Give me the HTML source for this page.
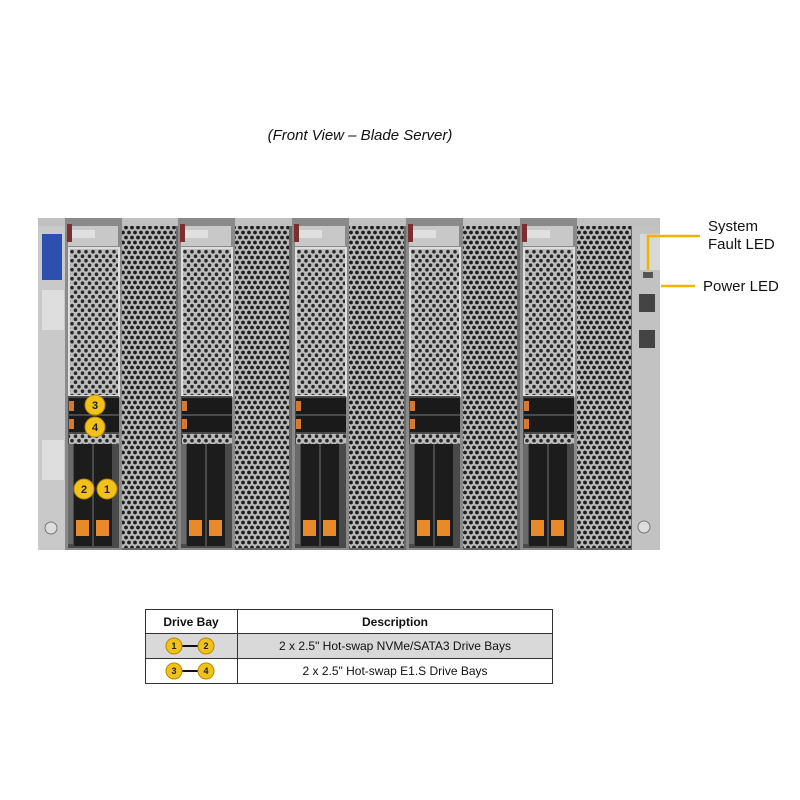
<!DOCTYPE html>
<html><head><meta charset="utf-8"><style>
body{margin:0;background:#fff;width:800px;height:800px;overflow:hidden;font-family:"Liberation Sans",sans-serif}
svg{position:absolute;left:0;top:0}
</style></head><body>
<svg width="800" height="800" viewBox="0 0 800 800" xmlns="http://www.w3.org/2000/svg">
<defs>
<pattern id="mesh" width="6" height="10" patternUnits="userSpaceOnUse">
<rect width="6" height="10" fill="#b8b8b8"/>
<circle cx="3" cy="2.5" r="1.9" fill="#1e1e1e"/>
<circle cx="0" cy="7.5" r="1.9" fill="#1e1e1e"/>
<circle cx="6" cy="7.5" r="1.9" fill="#1e1e1e"/>
</pattern>
<pattern id="mesh2" width="7" height="9" patternUnits="userSpaceOnUse">
<rect width="7" height="9" fill="#bdbdbd"/>
<circle cx="3.5" cy="2.2" r="1.8" fill="#2a2a2a"/>
<circle cx="0" cy="6.7" r="1.8" fill="#2a2a2a"/>
<circle cx="7" cy="6.7" r="1.8" fill="#2a2a2a"/>
</pattern>
<g id="node">
<rect x="0" y="0" width="57" height="332" fill="#8a8a8a"/>
<rect x="3" y="8" width="50" height="20" fill="#c8c8c8"/>
<rect x="6" y="12" width="24" height="8" fill="#e0e0e0"/>
<rect x="2" y="6" width="5" height="18" fill="#7a3030"/>
<rect x="4" y="30" width="50" height="148" fill="url(#mesh2)"/>
<rect x="4" y="30" width="50" height="148" fill="none" stroke="#ddd" stroke-width="2"/>
<rect x="3" y="178" width="51" height="152" fill="#4a4a4a"/>
<rect x="4" y="180" width="50" height="16" fill="#1a1a1a"/>
<rect x="4" y="198" width="50" height="16" fill="#1a1a1a"/>
<rect x="4" y="183" width="5" height="10" fill="#d77a30"/>
<rect x="4" y="201" width="5" height="10" fill="#d77a30"/>
<rect x="4" y="216" width="50" height="10" fill="url(#mesh2)"/>
<rect x="9" y="226" width="18" height="102" fill="#1c1c1c"/>
<rect x="29" y="226" width="18" height="102" fill="#1c1c1c"/>
<rect x="11" y="302" width="13" height="16" fill="#e8892a"/>
<rect x="31" y="302" width="13" height="16" fill="#e8892a"/>
<rect x="3" y="226" width="5" height="100" fill="#6a6a6a"/>
</g>
</defs>
<text x="360" y="140" font-size="15" font-style="italic" text-anchor="middle" fill="#111">(Front View – Blade Server)</text>

<rect x="38" y="218" width="622" height="332" fill="#6a6a6a"/>
<rect x="38" y="218" width="622" height="8" fill="#c0c0c0"/>
<rect x="38" y="226" width="30" height="324" fill="#c9c9c9"/>
<rect x="42" y="234" width="20" height="46" fill="#2d4fb0"/>
<rect x="42" y="290" width="22" height="40" fill="#dedede"/>
<rect x="42" y="440" width="22" height="40" fill="#dedede"/>
<circle cx="51" cy="528" r="6" fill="#ddd" stroke="#777"/>
<rect x="632" y="226" width="28" height="324" fill="#c2c2c2"/>
<rect x="640" y="234" width="20" height="36" fill="#d8d8d8"/>
<rect x="643" y="272" width="10" height="6" fill="#555"/>
<rect x="639" y="294" width="16" height="18" fill="#444"/>
<rect x="639" y="330" width="16" height="18" fill="#444"/>
<circle cx="644" cy="527" r="6" fill="#ddd" stroke="#777"/>

<rect x="122" y="226" width="54" height="322" fill="url(#mesh)"/>
<rect x="235" y="226" width="54" height="322" fill="url(#mesh)"/>
<rect x="349" y="226" width="55" height="322" fill="url(#mesh)"/>
<rect x="463" y="226" width="54" height="322" fill="url(#mesh)"/>
<rect x="577" y="226" width="54" height="322" fill="url(#mesh)"/>

<use href="#node" x="65" y="218"/>
<use href="#node" x="178" y="218"/>
<use href="#node" x="292" y="218"/>
<use href="#node" x="406" y="218"/>
<use href="#node" x="520" y="218"/>

<g font-size="11" font-weight="bold" text-anchor="middle" fill="#222">
<circle cx="95" cy="405" r="10" fill="#f2c21b" stroke="#b58a00"/><text x="95" y="409">3</text>
<circle cx="95" cy="427" r="10" fill="#f2c21b" stroke="#b58a00"/><text x="95" y="431">4</text>
<circle cx="84" cy="489" r="10" fill="#f2c21b" stroke="#b58a00"/><text x="84" y="493">2</text>
<circle cx="107" cy="489" r="10" fill="#f2c21b" stroke="#b58a00"/><text x="107" y="493">1</text>
</g>

<g stroke="#f0b400" stroke-width="2.5" fill="none">
<polyline points="700,236 648,236 648,270"/>
<line x1="661" y1="286" x2="695" y2="286"/>
</g>
<g font-size="15" fill="#111">
<text x="708" y="231">System</text>
<text x="708" y="249">Fault LED</text>
<text x="703" y="291">Power LED</text>
</g>

<rect x="145" y="633" width="408" height="25" fill="#d9d9d9"/>
<g stroke="#333" stroke-width="1" fill="none">
<rect x="145.5" y="609.5" width="407" height="74"/>
<line x1="237.5" y1="609" x2="237.5" y2="684"/>
<line x1="145" y1="633.5" x2="553" y2="633.5"/>
<line x1="145" y1="658.5" x2="553" y2="658.5"/>
</g>
<g font-size="12" fill="#111" text-anchor="middle">
<text x="191" y="626" font-weight="bold">Drive Bay</text>
<text x="395" y="626" font-weight="bold">Description</text>
<text x="395" y="650">2 x 2.5" Hot-swap  NVMe/SATA3 Drive  Bays</text>
<text x="395" y="675">2 x 2.5" Hot-swap  E1.S Drive  Bays</text>
</g>
<g font-size="9" font-weight="bold" text-anchor="middle" fill="#222">
<line x1="182" y1="646" x2="198" y2="646" stroke="#111" stroke-width="2"/>
<circle cx="174" cy="646" r="8" fill="#f2c21b" stroke="#b58a00"/><text x="174" y="649">1</text>
<circle cx="206" cy="646" r="8" fill="#f2c21b" stroke="#b58a00"/><text x="206" y="649">2</text>
<line x1="182" y1="671" x2="198" y2="671" stroke="#111" stroke-width="2"/>
<circle cx="174" cy="671" r="8" fill="#f2c21b" stroke="#b58a00"/><text x="174" y="674">3</text>
<circle cx="206" cy="671" r="8" fill="#f2c21b" stroke="#b58a00"/><text x="206" y="674">4</text>
</g>
</svg>
</body></html>
